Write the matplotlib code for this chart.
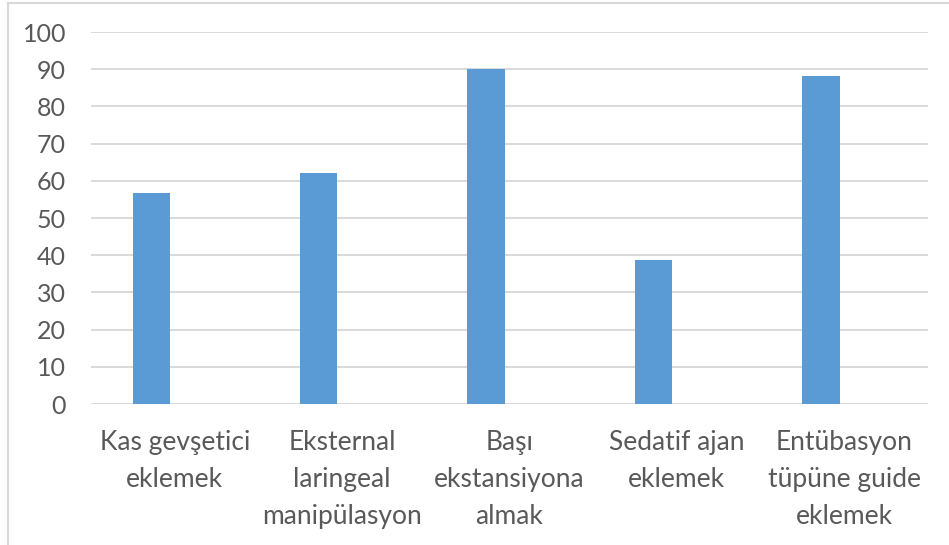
import matplotlib
matplotlib.use("Agg")
import matplotlib.pyplot as plt
import numpy as np
from matplotlib.lines import Line2D

categories = [
    "Kas gevşetici\neklemek",
    "Eksternal\nlaringeal\nmanipülasyon",
    "Başı\nekstansiyona\nalmak",
    "Sedatif ajan\neklemek",
    "Entübasyon\ntüpüne guide\neklemek",
]
values = [56.8, 62.0, 90.0, 38.8, 88.3]
yticks = [0, 10, 20, 30, 40, 50, 60, 70, 80, 90, 100]

plt.rcParams["font.family"] = ["Lato", "DejaVu Sans"]
text_color = "#595959"
grid_color = "#d9d9d9"
bar_color = "#5b9bd5"

W, H = 949, 545
fig = plt.figure(figsize=(W / 100, H / 100), dpi=100)
ax = fig.add_axes([91 / W, 1 - 404 / H, (928 - 91) / W, (404 - 32) / H])

x = np.arange(len(categories))
bar_w = 0.223
shift = -0.14
ax.bar(x + shift, values, width=bar_w, color=bar_color, zorder=3)

ax.set_xlim(-0.5, len(categories) - 0.5)
ax.set_ylim(0, 100)
ax.set_yticks(yticks)
ax.set_yticklabels([str(v) for v in yticks])
ax.set_xticks(x)
ax.set_xticklabels(categories, linespacing=1.6)

ax.yaxis.grid(True, color=grid_color, linewidth=1.4, zorder=0)
ax.set_axisbelow(True)
for s in ax.spines.values():
    s.set_visible(False)
ax.tick_params(axis="both", length=0, labelcolor=text_color)
ax.tick_params(axis="x", labelsize=19, pad=19)
ax.tick_params(axis="y", labelsize=18, pad=18)

# chart area outline (left and top edges)
fig.add_artist(Line2D([8 / W, 8 / W], [0, 1 - 3 / H], transform=fig.transFigure,
                      color=grid_color, linewidth=1.5))
fig.add_artist(Line2D([8 / W, 1], [1 - 3 / H, 1 - 3 / H], transform=fig.transFigure,
                      color=grid_color, linewidth=1.5))

fig.savefig("out.png", dpi=100, facecolor="white")
